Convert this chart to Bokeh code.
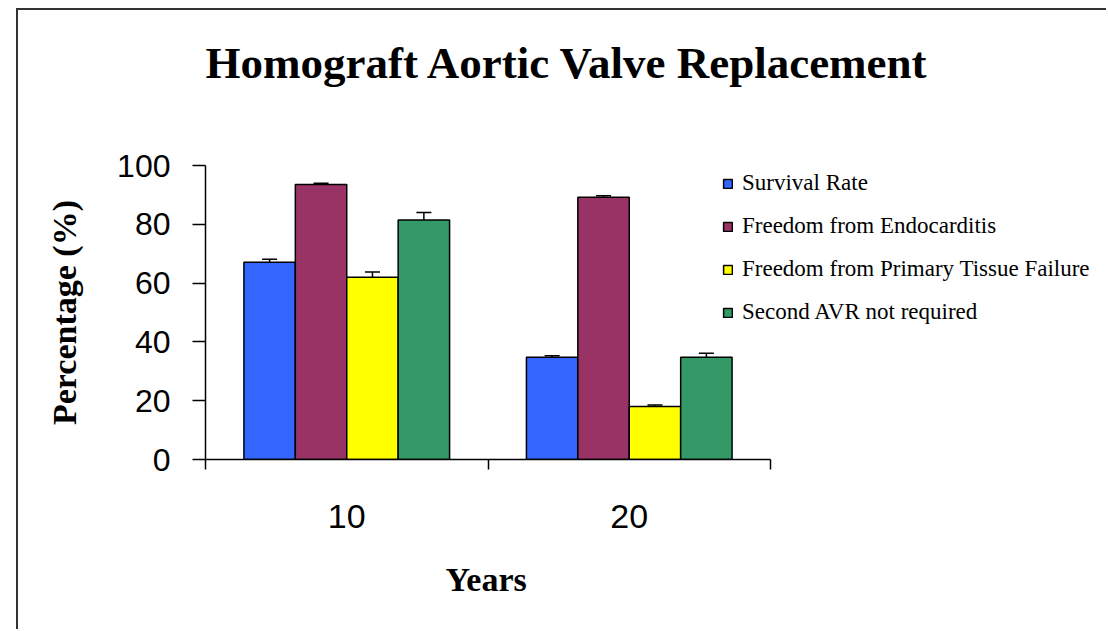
import numpy as np
from bokeh.plotting import figure
from bokeh.models import (ColumnDataSource, Whisker, FixedTicker, Title, Range1d)
from bokeh.embed import file_html
from bokeh.resources import INLINE

# ---- data ----
years = ["10", "20"]
series = ["Survival Rate", "Freedom from Endocarditis",
          "Freedom from Primary Tissue Failure", "Second AVR not required"]
survival = [67.1, 34.8]
endocarditis = [93.5, 89.2]
tissue_failure = [62.0, 18.0]
second_avr = [81.5, 34.8]
survival_err = [1.0, 0.5]
endocarditis_err = [0.5, 0.5]
tissue_failure_err = [1.8, 0.5]
second_avr_err = [2.5, 1.3]
y_ticks = [0, 20, 40, 60, 80, 100]

values = [survival, endocarditis, tissue_failure, second_avr]
errors = [survival_err, endocarditis_err, tissue_failure_err, second_avr_err]
colors = ["#3366FF", "#993366", "#FFFF00", "#339966"]

W, H = 1090, 621
left, top, axis_w, axis_h = 187, 155, 565, 294
right_pad = 5
frame_w = W - left - right_pad
x_end = len(years) * frame_w / axis_w

p = figure(width=W, height=H, output_backend="svg", toolbar_location=None,
           x_range=Range1d(0, x_end), y_range=Range1d(0, 100),
           min_border_left=left, min_border_right=right_pad,
           min_border_top=top, min_border_bottom=H - top - axis_h)
p.styles = {"margin-left": "16px", "margin-top": "8px",
            "border-top": "2px solid #333", "border-left": "2px solid #333"}
p.outline_line_color = None
p.xgrid.visible = False
p.ygrid.visible = False
p.background_fill_color = "white"
p.border_fill_color = "white"

bar_w = 0.182
n = len(series)
centers = np.arange(len(years)) + 0.5
for i, (name, vals, errs, col) in enumerate(zip(series, values, errors, colors)):
    off = (i - (n - 1) / 2) * bar_w
    xs = centers + off
    v = np.array(vals)
    e = np.array(errs)
    src = ColumnDataSource(dict(x=xs, top=v, upper=v + e, lower=v - e))
    p.vbar(x="x", top="top", width=bar_w, source=src, fill_color=col,
           line_color="black", line_width=1.5, legend_label=name)
    w = Whisker(base="x", upper="upper", lower="lower", source=src,
                line_color="black", line_width=1.5)
    w.upper_head.size = 15
    w.lower_head.size = 15
    w.upper_head.line_width = 1.5
    w.lower_head.line_width = 1.5
    p.add_layout(w)

# x axis
p.xaxis.bounds = (0, len(years))
p.xaxis.ticker = FixedTicker(ticks=list(centers),
                             minor_ticks=list(np.arange(len(years) + 1)))
p.xaxis.major_label_overrides = {float(c): y for c, y in zip(centers, years)}
p.xaxis.major_tick_out = 0
p.xaxis.major_tick_in = 0
p.xaxis.minor_tick_out = 10
p.xaxis.minor_tick_in = 0
p.xaxis.axis_line_width = 1.5
p.xaxis.axis_line_color = "black"
p.xaxis.minor_tick_line_width = 1.5
p.xaxis.minor_tick_line_color = "black"
p.xaxis.major_label_text_font = "Liberation Sans"
p.xaxis.major_label_text_font_size = "34px"
p.xaxis.major_label_text_color = "black"
p.xaxis.major_label_standoff = 35

# x axis title, centred under the axis (not under the wider frame)
xlab_size = 34
xlab_w = 2.5 * xlab_size
p.add_layout(Title(text="Years", align="left", offset=axis_w / 2 - xlab_w / 2,
                   vertical_align="top", standoff=60,
                   text_font="Liberation Serif", text_font_style="bold",
                   text_font_size=f"{xlab_size}px", text_color="black"), "below")

# y axis
p.yaxis.ticker = FixedTicker(ticks=y_ticks)
p.yaxis.major_tick_out = 13
p.yaxis.major_tick_in = 0
p.yaxis.minor_tick_out = 0
p.yaxis.minor_tick_in = 0
p.yaxis.axis_line_width = 1.5
p.yaxis.axis_line_color = "black"
p.yaxis.major_tick_line_width = 1.5
p.yaxis.major_tick_line_color = "black"
p.yaxis.major_label_text_font = "Liberation Sans"
p.yaxis.major_label_text_font_size = "32px"
p.yaxis.major_label_text_color = "black"
p.yaxis.major_label_standoff = 22
p.yaxis.axis_label = "Percentage (%)"
p.yaxis.axis_label_text_font = "Liberation Serif"
p.yaxis.axis_label_text_font_style = "bold"
p.yaxis.axis_label_text_font_size = "34px"
p.yaxis.axis_label_text_color = "black"
p.yaxis.axis_label_standoff = 31

# title: spacer panel next to the frame, then the title itself
p.title = None
p.add_layout(Title(text=" ", text_font_size="1px", standoff=75), "above")
p.add_layout(Title(text="Homograft Aortic Valve Replacement", align="left", offset=0,
                   text_font="Liberation Serif", text_font_style="bold",
                   text_font_size="45px", text_color="black", standoff=0), "above")

# legend
lg = p.legend[0]
lg.location = (517, 134)
lg.label_text_font = "Liberation Serif"
lg.label_text_font_size = "23px"
lg.label_text_color = "black"
lg.label_height = 23
lg.glyph_height = 11
lg.glyph_width = 11
lg.label_standoff = 9
lg.spacing = 17
lg.padding = 0
lg.margin = 0
lg.border_line_color = None
lg.background_fill_alpha = 0

open("out.html", "w").write(file_html(p, INLINE))
